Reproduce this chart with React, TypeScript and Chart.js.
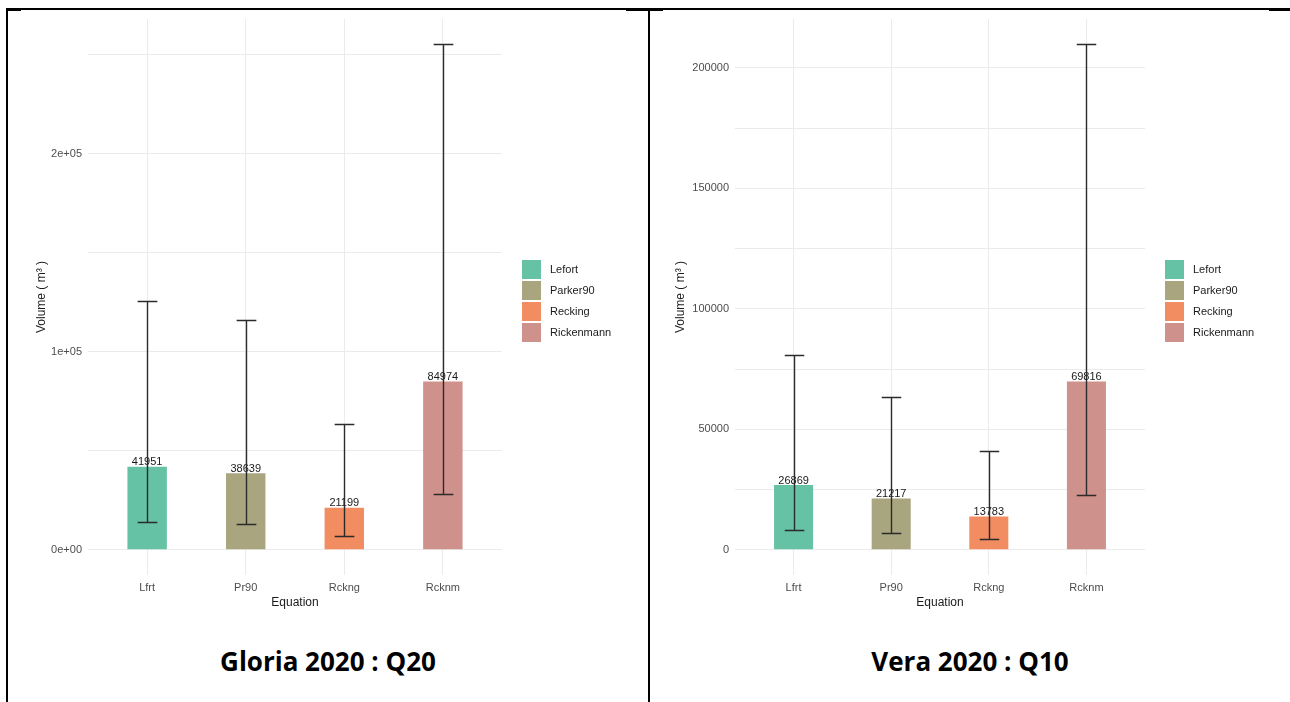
import React, { useEffect, useRef } from "react";
import { Chart, registerables } from "chart.js";

Chart.register(...registerables);

// Equations: short axis codes, legend names and fill colours
const equationCodes = ["Lfrt", "Pr90", "Rckng", "Rcknm"];
const equationNames = ["Lefort", "Parker90", "Recking", "Rickenmann"];
const equationColors = ["#66C2A5", "#A9A67F", "#F28D62", "#CF918B"];

// Gloria 2020 : Q20 — estimated volume with lower / upper bounds (m³)
const gloriaVolume = [41951, 38639, 21199, 84974];
const gloriaLow = [14100, 13000, 7000, 28300];
const gloriaHigh = [125600, 115800, 63600, 255300];
const gloriaTicks = [0, 50000, 100000, 150000, 200000, 250000];
const gloriaTickLabels = ["0e+00", "", "1e+05", "", "2e+05", ""];

// Vera 2020 : Q10
const veraVolume = [26869, 21217, 13783, 69816];
const veraLow = [8300, 6800, 4300, 22900];
const veraHigh = [80800, 63600, 41000, 209800];
const veraTicks = [0, 25000, 50000, 75000, 100000, 125000, 150000, 175000, 200000];
const veraTickLabels = ["0", "", "50000", "", "100000", "", "150000", "", "200000"];

const SANS = "'Liberation Sans', Arial, sans-serif";
const GRID = "#EBEBEB";

type Panel = {
  volume: number[];
  low: number[];
  high: number[];
  ticks: number[];
  tickLabels: string[];
  axisWidth: number;
  rightPad: number;
  titlePad: number;
};

function buildChart(canvas: HTMLCanvasElement, panel: Panel) {
  const top = Math.max(...panel.high);
  const yMin = -0.05 * top;
  const yMax = 1.05 * top;

  // value labels above the bars, then error bars on top of them
  const marks = {
    id: "volumeMarks",
    afterDatasetsDraw(chart: any) {
      const { ctx, scales } = chart;
      const x = scales.x;
      const y = scales.y;
      ctx.save();
      ctx.font = `11px ${SANS}`;
      ctx.fillStyle = "#1A1A1A";
      ctx.textAlign = "center";
      ctx.textBaseline = "bottom";
      panel.volume.forEach((v, i) => {
        ctx.fillText(String(v), x.getPixelForValue(i + 1), y.getPixelForValue(v) + 1);
      });
      ctx.strokeStyle = "#2B2B2B";
      ctx.lineWidth = 1.4;
      const half = x.getPixelForValue(1.1) - x.getPixelForValue(1);
      panel.volume.forEach((_, i) => {
        const cx = Math.round(x.getPixelForValue(i + 1)) + 0.5;
        const yl = Math.round(y.getPixelForValue(panel.low[i])) + 0.5;
        const yh = Math.round(y.getPixelForValue(panel.high[i])) + 0.5;
        ctx.beginPath();
        ctx.moveTo(cx, yl);
        ctx.lineTo(cx, yh);
        ctx.moveTo(cx - half, yl);
        ctx.lineTo(cx + half, yl);
        ctx.moveTo(cx - half, yh);
        ctx.lineTo(cx + half, yh);
        ctx.stroke();
      });
      ctx.restore();
    },
  };

  // fill legend at the right of the panel
  const key = {
    id: "fillKey",
    afterDraw(chart: any) {
      const { ctx, chartArea } = chart;
      const left = chartArea.right + 20;
      const first = chartArea.top + 241;
      ctx.save();
      ctx.font = `11px ${SANS}`;
      ctx.textAlign = "left";
      ctx.textBaseline = "middle";
      equationNames.forEach((name, i) => {
        const t = first + i * 21;
        ctx.fillStyle = equationColors[i];
        ctx.fillRect(left, t, 19, 19);
        ctx.fillStyle = "#1A1A1A";
        ctx.fillText(name, left + 28, t + 10);
      });
      ctx.restore();
    },
  };

  return new Chart(canvas, {
    type: "bar",
    data: {
      datasets: [
        {
          data: panel.volume.map((v, i) => ({ x: i + 1, y: v })),
          backgroundColor: equationColors,
          borderWidth: 0,
          barPercentage: 0.4,
          categoryPercentage: 1,
        },
      ],
    },
    options: {
      responsive: false,
      animation: false,
      layout: { padding: { top: 9, right: panel.rightPad, bottom: 7, left: 0 } },
      plugins: { legend: { display: false }, tooltip: { enabled: false } },
      scales: {
        x: {
          type: "linear",
          offset: false,
          min: 0.4,
          max: 4.6,
          afterBuildTicks: (s: any) => {
            s.ticks = equationCodes.map((_, i) => ({ value: i + 1 }));
          },
          afterFit: (s: any) => {
            s.height = 40;
            s.paddingLeft = 0;
            s.paddingRight = 0;
          },
          grid: { color: GRID, lineWidth: 1, drawTicks: false, offset: false },
          border: { display: false },
          ticks: {
            padding: 6,
            maxRotation: 0,
            autoSkip: false,
            color: "#4D4D4D",
            font: { family: SANS, size: 11 },
            callback: (_v: any, i: number) => equationCodes[i],
          },
          title: {
            display: true,
            text: "Equation",
            color: "#1A1A1A",
            font: { family: SANS, size: 12 },
            padding: { top: 0, bottom: 5 },
          },
        },
        y: {
          type: "linear",
          min: yMin,
          max: yMax,
          afterBuildTicks: (s: any) => {
            s.ticks = panel.ticks.map((v) => ({ value: v }));
          },
          afterFit: (s: any) => {
            s.width = panel.axisWidth;
            s.paddingTop = 0;
            s.paddingBottom = 0;
          },
          grid: { color: GRID, lineWidth: 1, drawTicks: false },
          border: { display: false },
          ticks: {
            padding: 6,
            autoSkip: false,
            color: "#4D4D4D",
            font: { family: SANS, size: 11 },
            callback: (_v: any, i: number) => panel.tickLabels[i],
          },
          title: {
            display: true,
            text: "Volume ( m³ )",
            color: "#1A1A1A",
            font: { family: SANS, size: 12 },
            padding: { top: panel.titlePad, bottom: 0 },
          },
        },
      },
    },
    plugins: [marks, key],
  } as any);
}

function BarPanel({ panel, left }: { panel: Panel; left: number }) {
  const ref = useRef<HTMLCanvasElement | null>(null);
  useEffect(() => {
    if (!ref.current) return;
    const chart = buildChart(ref.current, panel);
    return () => chart.destroy();
  }, [panel]);
  return (
    <canvas
      ref={ref}
      width={638}
      height={612}
      style={{ position: "absolute", left, top: 10, width: 638, height: 612, display: "block" }}
    />
  );
}

const gloria: Panel = {
  volume: gloriaVolume,
  low: gloriaLow,
  high: gloriaHigh,
  ticks: gloriaTicks,
  tickLabels: gloriaTickLabels,
  axisWidth: 79,
  rightPad: 145,
  titlePad: 25,
};

const vera: Panel = {
  volume: veraVolume,
  low: veraLow,
  high: veraHigh,
  ticks: veraTicks,
  tickLabels: veraTickLabels,
  axisWidth: 84,
  rightPad: 144,
  titlePad: 22,
};

const line = (l: number, t: number, w: number, h: number) => (
  <div style={{ position: "absolute", left: l, top: t, width: w, height: h, background: "#000" }} />
);

const caption: React.CSSProperties = {
  position: "absolute",
  top: 646,
  lineHeight: "30px",
  textAlign: "center",
  fontFamily: "'Open Sans', 'Noto Sans', sans-serif",
  fontWeight: 700,
  fontSize: 26,
  color: "#000",
};

export default function App() {
  return (
    <div
      style={{
        position: "absolute",
        left: 0,
        top: 0,
        width: 1290,
        height: 702,
        overflow: "hidden",
        background: "#fff",
      }}
    >
      {line(6, 8, 1284, 2)}
      {line(7, 9, 14, 2)}
      {line(626, 9, 22, 2)}
      {line(650, 9, 13, 2)}
      {line(1269, 9, 21, 2)}
      {line(6, 8, 2, 694)}
      {line(648, 8, 2, 694)}
      <BarPanel panel={gloria} left={9} />
      <BarPanel panel={vera} left={651} />
      <div style={{ ...caption, left: 8, width: 640 }}>Gloria 2020 : Q20</div>
      <div style={{ ...caption, left: 650, width: 640 }}>Vera 2020 : Q10</div>
    </div>
  );
}
